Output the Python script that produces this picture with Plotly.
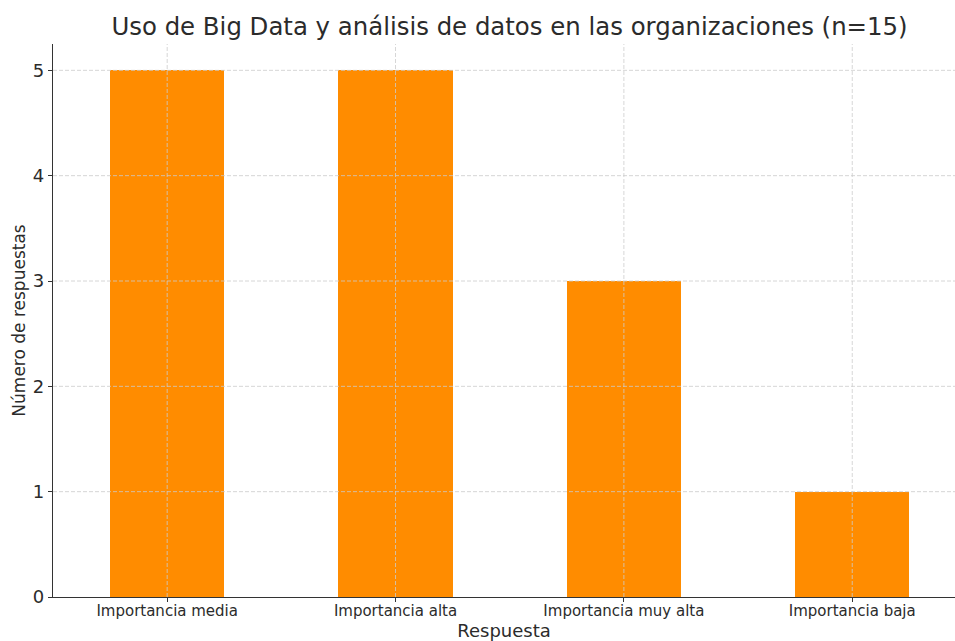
import plotly.graph_objects as go

# Survey answers and counts
categorias = ['Importancia media', 'Importancia alta', 'Importancia muy alta', 'Importancia baja']
respuestas = [5, 5, 3, 1]
y_ticks = [0, 1, 2, 3, 4, 5]

TITULO = 'Uso de Big Data y análisis de datos en las organizaciones (n=15)'
FONT = 'DejaVu Sans'
TEXT_COLOR = '#2b2b2b'
GRID_COLOR = '#cccccc'

fig = go.Figure()

fig.add_trace(go.Bar(
    x=categorias,
    y=respuestas,
    width=0.5,
    marker=dict(color='#ff8c00', line=dict(width=0)),
    hovertemplate='%{x}: %{y}<extra></extra>'
))

# matplotlib style grid drawn over the bars (dashed, light)
shapes = []
for t in y_ticks[1:]:
    shapes.append(dict(type='line', xref='paper', yref='y', x0=0, x1=1, y0=t, y1=t,
                       line=dict(color=GRID_COLOR, width=0.8, dash='4px,2px'), layer='above'))
for c in categorias:
    shapes.append(dict(type='line', xref='x', yref='paper', x0=c, x1=c, y0=0, y1=1,
                       line=dict(color=GRID_COLOR, width=0.8, dash='4px,2px'), layer='above'))

fig.update_layout(
    width=955,
    height=641,
    paper_bgcolor='white',
    plot_bgcolor='white',
    font=dict(family=FONT, color=TEXT_COLOR),
    title=dict(
        text=TITULO,
        x=0.5335,
        xref='container',
        xanchor='center',
        y=0.958,
        yref='container',
        yanchor='middle',
        font=dict(size=24.4, color=TEXT_COLOR),
        automargin=False
    ),
    margin=dict(l=53, r=0, t=44, b=44),
    showlegend=False,
    bargap=0,
    shapes=shapes,
    xaxis=dict(
        type='category',
        range=[-0.5, 3.45],
        automargin=False,
        showgrid=False,
        showline=True,
        linecolor='#333333',
        linewidth=1.2,
        ticks='outside',
        ticklen=4,
        tickcolor='#333333',
        ticklabelstandoff=-4,
        tickfont=dict(size=15, color=TEXT_COLOR),
        title=dict(text='Respuesta', font=dict(size=18, color=TEXT_COLOR), standoff=4),
        zeroline=False
    ),
    yaxis=dict(
        range=[0, 5.25],
        tickvals=y_ticks,
        automargin=False,
        showgrid=False,
        showline=True,
        linecolor='#333333',
        linewidth=1.2,
        ticks='outside',
        ticklen=4,
        tickcolor='#333333',
        tickfont=dict(size=18, color=TEXT_COLOR),
        title=dict(text='Número de respuestas', font=dict(size=17, color=TEXT_COLOR), standoff=2),
        zeroline=False
    )
)

# drop the default 8px page margin so the figure fills the window exactly
fig.write_html('out.html', config={'displayModeBar': False},
               post_script="document.body.style.margin='0';document.body.style.overflow='hidden';")
